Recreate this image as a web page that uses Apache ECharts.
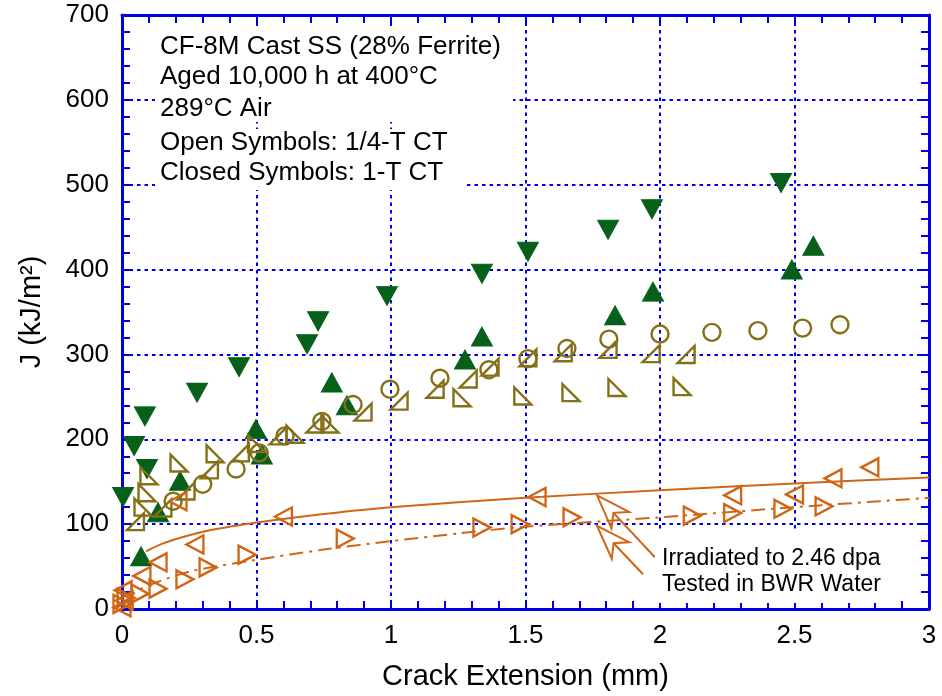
<!DOCTYPE html>
<html>
<head>
<meta charset="utf-8">
<script src="https://cdn.jsdelivr.net/npm/echarts@6/dist/echarts.min.js"></script>
<style>html,body{margin:0;padding:0;background:#fff}#c{width:942px;height:696px}</style>
</head>
<body>
<div id="c"></div>
<script>
// ---------- data ----------
const xTickLabels = ['0', '0.5', '1', '1.5', '2', '2.5', '3'];
const yTickLabels = ['0', '100', '200', '300', '400', '500', '600', '700'];

// 1-T CT, closed down triangles
const closedDown = [[0.004,132],[0.045,192],[0.085,227],[0.093,165],[0.279,255],[0.435,285],[0.688,312],[0.729,339],[0.985,369],[1.338,395],[1.509,421],[1.807,447],[1.97,471],[2.45,502]];
// 1-T CT, closed up triangles
const closedUp = [[0.071,62],[0.134,114],[0.216,151],[0.498,212],[0.52,182],[0.78,267],[0.836,240],[1.275,294],[1.338,321],[1.833,346],[1.974,374],[2.49,400],[2.57,428]];
// 1/4-T CT, open circles
const openCircle = [[0.19,127],[0.3,147],[0.424,165],[0.51,184],[0.606,204],[0.743,221],[0.859,241],[0.996,259],[1.182,272],[1.364,282],[1.509,295],[1.654,307],[1.81,318],[2.0,324],[2.193,326],[2.364,328],[2.53,331],[2.669,335]];
// 1/4-T CT, open right triangles (right angle bottom-right)
const openTriR = [[0.05,103],[0.152,119],[0.238,139],[0.325,164],[0.44,184],[0.58,204],[0.717,218],[0.896,232],[1.03,245],[1.164,259],[1.287,271],[1.368,285],[1.509,296],[1.64,302],[1.807,306],[1.967,301],[2.097,300]];
// 1/4-T CT, open right triangles (right angle bottom-left)
const openTriL = [[0.078,120],[0.093,137],[0.1,157],[0.212,172],[0.346,183],[0.5,195],[0.643,206],[0.773,218],[1.264,249],[1.49,251],[1.669,255],[1.84,261],[2.082,262]];
// irradiated, BWR water: left-pointing open triangles
const irrLeft = [[0.0,2],[0.008,10],[0.004,22],[0.074,39],[0.134,55],[0.208,127],[0.271,76],[0.6,109],[1.543,132],[2.27,134],[2.5,135],[2.643,154],[2.78,167]];
// irradiated, BWR water: right-pointing open triangles
const irrRight = [[0.0,6],[0.015,13],[0.067,18],[0.134,24],[0.234,35],[0.32,49],[0.465,64],[0.83,83],[1.338,96],[1.48,100],[1.673,108],[2.12,110],[2.27,113],[2.457,118],[2.61,121]];
// fitted curves
const fitLeft = [[0.09,68],[0.15,77],[0.24,86],[0.33,93],[0.4,97],[0.5,102],[0.75,112],[1.0,120],[1.5,131],[2.0,140],[2.5,148],[3.0,155]];
const fitRight = [[0.01,8],[0.05,20],[0.1,28],[0.25,44],[0.5,58],[0.75,70],[1.0,80],[1.25,89],[1.5,97],[2.0,108],[2.5,120],[3.0,131]];
// annotation arrows: [tipX, tipY, tailX, tailY]
const arrows = [[1.766,134,1.981,61],[1.766,98,1.937,41]];
const noteLines = ['CF-8M Cast SS (28% Ferrite)','Aged 10,000 h at 400°C','289°C Air','Open Symbols: 1/4-T CT','Closed Symbols: 1-T CT'];
const arrowNote = ['Irradiated to 2.46 dpa','Tested in BWR Water'];

// ---------- styling ----------
const BLUE = '#0000e6';
const GREEN = '#06601a';
const OLIVE = '#857018';
const ORANGE = '#d06516';
const FONT = '"Liberation Sans", Arial, Helvetica, sans-serif';

const chart = echarts.init(document.getElementById('c'), null, {renderer: 'canvas'});

function axisCommon(showLabel) {
  return {
    axisLine: {show: true, onZero: false, lineStyle: {color: BLUE, width: 3}},
    axisTick: {show: true, inside: true, length: 9, lineStyle: {color: BLUE, width: 2}},
    minorTick: {show: true, splitNumber: 5, length: 8, lineStyle: {color: BLUE, width: 2}},
    axisLabel: {show: showLabel, color: '#000', fontSize: 26, fontFamily: FONT},
  };
}

const grid = {left: 122, right: 13, top: 15, bottom: 86};

const option = {
  animation: false,
  backgroundColor: '#fff',
  grid: grid,
  xAxis: [
    Object.assign({
      type: 'value', min: 0, max: 3, interval: 0.5, position: 'bottom',
      name: 'Crack Extension (mm)', nameLocation: 'middle', nameGap: 53,
      nameTextStyle: {color: '#000', fontSize: 29, fontFamily: FONT},
      splitLine: {show: true, lineStyle: {color: BLUE, width: 2, type: [3.5, 4]}},
    }, axisCommon(true), {
      axisLabel: {show: true, color: '#000', fontSize: 26, fontFamily: FONT, margin: 14,
        formatter: v => xTickLabels[Math.round(v / 0.5)]}
    }),
    Object.assign({
      type: 'value', min: 0, max: 3, interval: 0.5, position: 'top',
      splitLine: {show: false},
    }, axisCommon(false))
  ],
  yAxis: [
    Object.assign({
      type: 'value', min: 0, max: 700, interval: 100, position: 'left',
      name: 'J (kJ/m²)', nameLocation: 'middle', nameGap: 76,
      nameTextStyle: {color: '#000', fontSize: 29, fontFamily: FONT},
      splitLine: {show: true, lineStyle: {color: BLUE, width: 2, type: [3.5, 4]}},
    }, axisCommon(true), {
      axisLabel: {show: true, color: '#000', fontSize: 26, fontFamily: FONT, margin: 13,
        formatter: v => yTickLabels[Math.round(v / 100)]}
    }),
    Object.assign({
      type: 'value', min: 0, max: 700, interval: 100, position: 'right',
      splitLine: {show: false},
    }, axisCommon(false))
  ],
  graphic: [
    {type: 'rect', z: 50, shape: {x: 155, y: 27, width: 358, height: 95}, style: {fill: '#fff'}},
    {type: 'rect', z: 50, shape: {x: 155, y: 129, width: 308, height: 61}, style: {fill: '#fff'}},
    {type: 'rect', z: 50, shape: {x: 655, y: 531, width: 235, height: 72}, style: {fill: '#fff'}},
  ].concat(noteLines.map((t, i) => ({
    type: 'text', z: 51, left: 160, top: [34, 64, 96, 130, 160][i],
    style: {text: t, fill: '#000', fontSize: 26, fontFamily: FONT}
  }))).concat(arrowNote.map((t, i) => ({
    type: 'text', z: 51, left: 662, top: [547, 573][i],
    style: {text: t, fill: '#000', fontSize: 23, fontFamily: FONT}
  }))),
  series: [
    {type: 'scatter', name: 'closedDown', data: closedDown, symbol: 'triangle', symbolRotate: 180,
      symbolSize: [21, 19], itemStyle: {color: GREEN, borderColor: GREEN, borderWidth: 1, opacity: 1}, z: 2},
    {type: 'scatter', name: 'closedUp', data: closedUp, symbol: 'triangle',
      symbolSize: [21, 19], itemStyle: {color: GREEN, borderColor: GREEN, borderWidth: 1, opacity: 1}, z: 2},
    {type: 'scatter', name: 'openCircle', data: openCircle, symbol: 'circle', symbolSize: 17,
      itemStyle: {color: 'rgba(0,0,0,0)', borderColor: OLIVE, borderWidth: 2.4, opacity: 1}, z: 3},
    {type: 'scatter', name: 'openTriR', data: openTriR, symbol: 'path://M10,0 L10,10 L0,10 Z', symbolSize: [17, 17],
      itemStyle: {color: 'rgba(0,0,0,0)', borderColor: OLIVE, borderWidth: 2.4, opacity: 1}, z: 3},
    {type: 'scatter', name: 'openTriL', data: openTriL, symbol: 'path://M0,0 L0,10 L10,10 Z', symbolSize: [17, 17],
      itemStyle: {color: 'rgba(0,0,0,0)', borderColor: OLIVE, borderWidth: 2.4, opacity: 1}, z: 3},
    {type: 'line', name: 'fitLeft', data: fitLeft, smooth: 0.3, showSymbol: false, symbol: 'none',
      lineStyle: {color: ORANGE, width: 2}, z: 4},
    {type: 'line', name: 'fitRight', data: fitRight, smooth: 0.3, showSymbol: false, symbol: 'none',
      lineStyle: {color: ORANGE, width: 2, type: [14, 6, 3, 6]}, z: 4},
    {type: 'scatter', name: 'irrLeft', data: irrLeft, symbol: 'path://M0,5 L10,0 L10,10 Z', symbolSize: [17, 18],
      itemStyle: {color: 'rgba(0,0,0,0)', borderColor: ORANGE, borderWidth: 2.4, opacity: 1}, z: 5},
    {type: 'scatter', name: 'irrRight', data: irrRight, symbol: 'path://M0,0 L10,5 L0,10 Z', symbolSize: [17, 18],
      itemStyle: {color: 'rgba(0,0,0,0)', borderColor: ORANGE, borderWidth: 2.4, opacity: 1}, z: 5},
    {type: 'custom', name: 'arrows', data: arrows, clip: false, z: 6,
      encode: {x: [0, 2], y: [1, 3]},
      renderItem: function (params, api) {
        const tip = api.coord([api.value(0), api.value(1)]);
        const tail = api.coord([api.value(2), api.value(3)]);
        let dx = tip[0] - tail[0], dy = tip[1] - tail[1];
        const len = Math.sqrt(dx * dx + dy * dy);
        dx /= len; dy /= len;
        const nx = -dy, ny = dx;
        const L = 34, W = 12, N = 24;
        const w1 = [tip[0] - dx * L + nx * W, tip[1] - dy * L + ny * W];
        const w2 = [tip[0] - dx * L - nx * W, tip[1] - dy * L - ny * W];
        const notch = [tip[0] - dx * N, tip[1] - dy * N];
        return {type: 'group', children: [
          {type: 'polygon', shape: {points: [tip, w1, notch, w2]},
            style: {fill: 'rgba(0,0,0,0)', stroke: ORANGE, lineWidth: 2}},
          {type: 'line', shape: {x1: notch[0], y1: notch[1], x2: tail[0], y2: tail[1]},
            style: {stroke: ORANGE, lineWidth: 2}}
        ]};
      }
    }
  ]
};
chart.setOption(option);
</script>
</body>
</html>
